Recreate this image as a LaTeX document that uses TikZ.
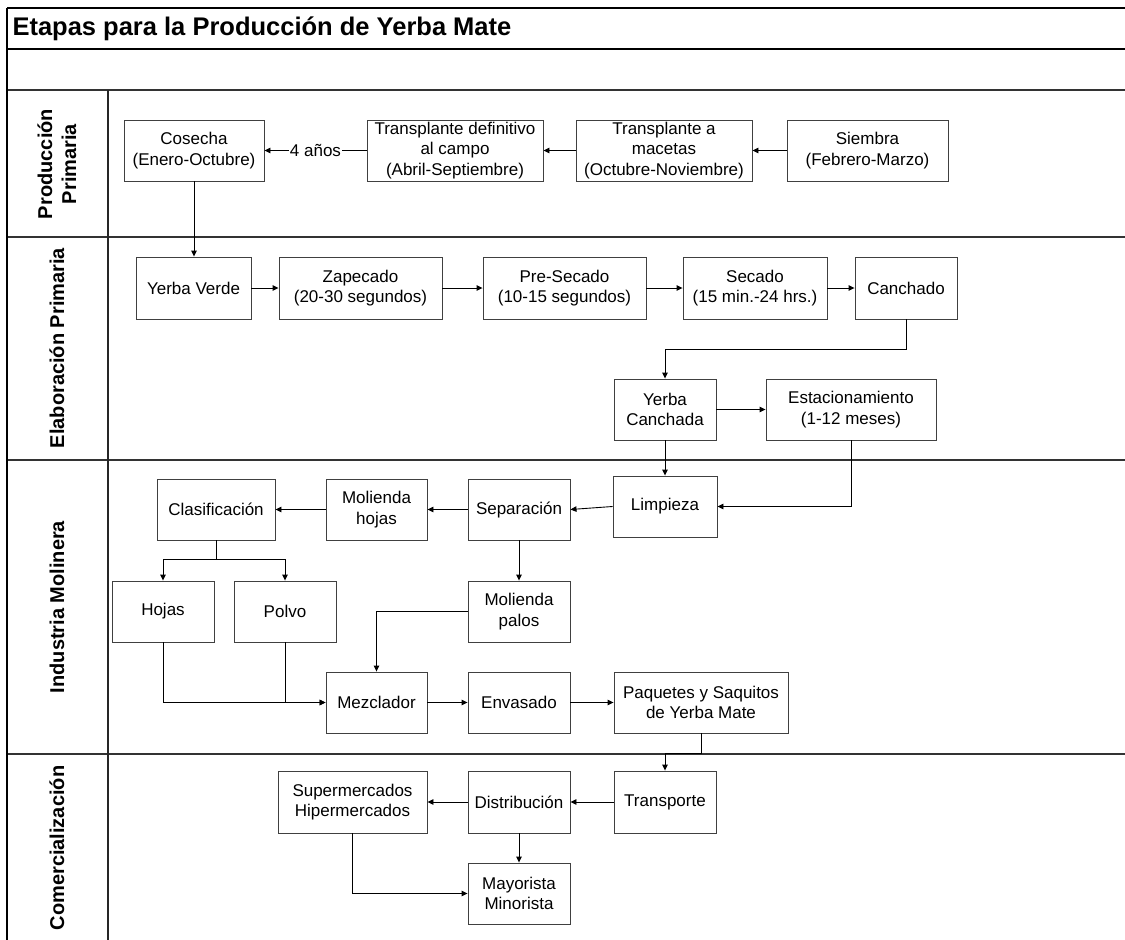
\documentclass[tikz,border=0pt]{standalone}
\usepackage{fontspec}
\setmainfont{Liberation Sans}
\usetikzlibrary{arrows.meta}

% one process stage: name, x1, y1, x2, y2, text
\newcommand\stage[6]{%
  \node[stagebox, minimum width={(#4-#2)*1pt}, minimum height={(#5-#3)*1pt}]
    (#1) at ({(#2+#4)/2},{(#3+#5)/2}) {#6};}

\begin{document}
\begin{tikzpicture}[x=1pt, y=-1pt,
  stagebox/.style={draw=black!75, line width=0.9pt, fill=white, align=center,
    inner sep=0pt, font=\fontsize{17}{20.5}\selectfont},
  flow/.style={draw=black, line width=0.9pt, -{Triangle[length=6pt,width=5.5pt]}},
  frameline/.style={draw=black, line width=1.3pt},
  laneline/.style={draw=black!80, line width=1.9pt},
  lanelabel/.style={rotate=90, align=center, font=\fontsize{20}{24}\selectfont\bfseries},
  tag/.style={fill=white, inner sep=1pt, font=\fontsize{17}{20}\selectfont}]
\useasboundingbox (0,0) rectangle (1125,940);

% frame, title row and swimlanes
\draw[frameline] (7,8) -- (1125,8);
\draw[frameline] (7,49) -- (1125,49);
\draw[laneline] (7,90) -- (1125,90);
\draw[laneline] (7,237) -- (1125,237);
\draw[laneline] (7,460) -- (1125,460);
\draw[laneline] (7,754) -- (1125,754);
\draw[frameline] (7,8) -- (7,940);
\draw[line width=1.3pt, draw=black!85] (108,90) -- (108,940);

\node[anchor=west, font=\fontsize{25.5}{30}\selectfont\bfseries] (title) at (9,29)
  {Etapas para la Producción de Yerba Mate};

\node[lanelabel] (lane1) at (57,164) {Producción\\Primaria};
\node[lanelabel] (lane2) at (57,348) {Elaboración Primaria};
\node[lanelabel] (lane3) at (57,607) {Industria Molinera};
\node[lanelabel] (lane4) at (57,848) {Comercialización};

% Producción primaria
\stage{cosecha}{124}{120}{264}{181}{Cosecha\\(Enero-Octubre)}
\stage{tdef}{367}{120}{543}{181}{Transplante definitivo\\al campo\\(Abril-Septiembre)}
\stage{tmac}{576}{120}{752}{181}{Transplante a\\macetas\\(Octubre-Noviembre)}
\stage{siembra}{787}{120}{948}{181}{Siembra\\(Febrero-Marzo)}

% Elaboración primaria
\stage{yverde}{136}{257}{251}{319}{Yerba Verde}
\stage{zapec}{279}{257}{442}{319}{Zapecado\\(20-30 segundos)}
\stage{presec}{483}{257}{646}{319}{Pre-Secado\\(10-15 segundos)}
\stage{secado}{683}{257}{827}{319}{Secado\\(15 min.-24 hrs.)}
\stage{canch}{855}{257}{957}{319}{Canchado}
\stage{ycanch}{614}{379}{716}{440}{Yerba\\Canchada}
\stage{estac}{766}{379}{936}{440}{Estacionamiento\\(1-12 meses)}

% Industria molinera
\stage{limp}{613}{476}{717}{537}{Limpieza}
\stage{separ}{468}{479}{570}{540}{Separación}
\stage{molh}{326}{479}{427}{540}{Molienda\\hojas}
\stage{clasif}{157}{479}{275}{540}{Clasificación}
\stage{hojas}{112}{581}{214}{642}{Hojas}
\stage{polvo}{234}{581}{336}{642}{Polvo}
\stage{molp}{468}{581}{570}{642}{Molienda\\palos}
\stage{mezcl}{326}{672}{427}{733}{Mezclador}
\stage{envas}{468}{672}{570}{733}{Envasado}
\stage{paq}{614}{672}{788}{733}{Paquetes y Saquitos\\de Yerba Mate}

% Comercialización
\stage{transp}{614}{771}{716}{833}{Transporte}
\stage{distr}{468}{771}{570}{833}{Distribución}
\stage{super}{278}{771}{427}{833}{Supermercados\\Hipermercados}
\stage{mayor}{468}{863}{570}{924}{Mayorista\\Minorista}

% connectors
\draw[flow] (siembra.west) -- (tmac.east);
\draw[flow] (tmac.west) -- (tdef.east);
\draw[flow] (tdef.west) -- node[tag] {4 años} (cosecha.east);
\draw[flow] (cosecha.south) -- (cosecha.south |- yverde.north);

\draw[flow] (yverde.east) -- (zapec.west);
\draw[flow] (zapec.east) -- (presec.west);
\draw[flow] (presec.east) -- (secado.west);
\draw[flow] (secado.east) -- (canch.west);
\draw[flow] (canch.south) -- ++(0,30) -| (ycanch.north);
\draw[flow] (ycanch.east) -- (estac.west);
\draw[flow] (ycanch.south) -- (limp.north);
\draw[flow] (estac.south) |- (limp.east);

\draw[flow] (limp.west) -- (separ.east);
\draw[flow] (separ.west) -- (molh.east);
\draw[flow] (molh.west) -- (clasif.east);
\draw[line width=0.9pt] (clasif.south) -- ++(0,19) coordinate (split);
\draw[flow] (split) -| (hojas.north);
\draw[flow] (split) -| (polvo.north);
\draw[flow] (separ.south) -- (molp.north);
\draw[flow] (molp.west) -| (mezcl.north);
\draw[flow] (hojas.south) |- (mezcl.west);
\draw[flow] (polvo.south) |- (mezcl.west);
\draw[flow] (mezcl.east) -- (envas.west);
\draw[flow] (envas.east) -- (paq.west);

\draw[flow] (paq.south) -- ++(0,20) -| (transp.north);
\draw[flow] (transp.west) -- (distr.east);
\draw[flow] (distr.west) -- (super.east);
\draw[flow] (distr.south) -- (mayor.north);
\draw[flow] (super.south) |- (mayor.west);
\end{tikzpicture}
\end{document}
